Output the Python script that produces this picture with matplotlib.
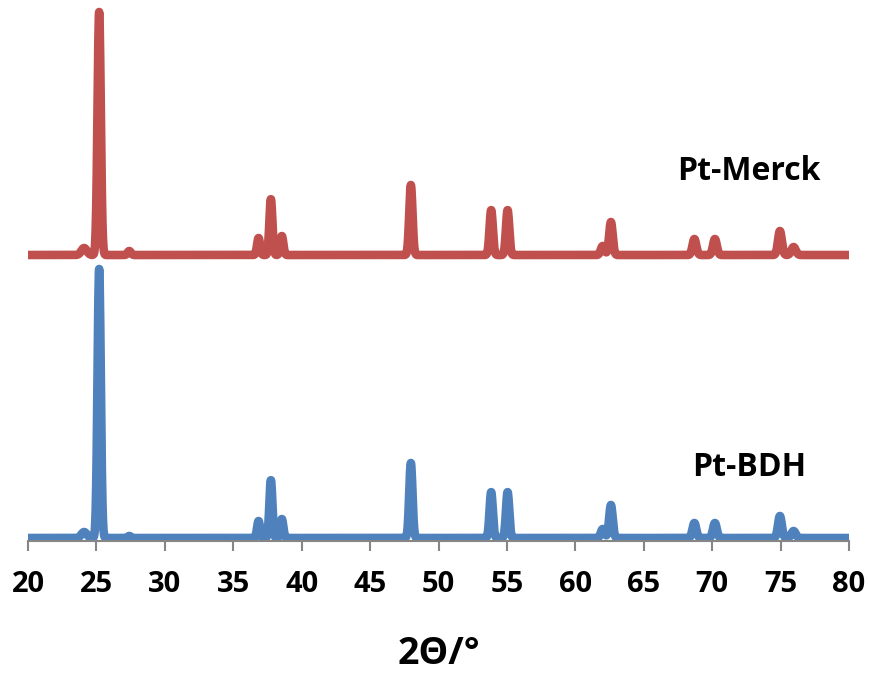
import numpy as np
import matplotlib
matplotlib.use("Agg")
import matplotlib.pyplot as plt

# Reflection positions (2θ, degrees) shared by both samples
peak_pos = [24.1, 25.2, 27.4, 36.85, 37.75, 38.55, 47.98, 53.85, 55.05,
            62.0, 62.6, 68.7, 70.2, 74.95, 75.95]
# Peak heights above each baseline (counts, arbitrary)
merck_heights = [7, 243, 4, 17, 56, 19, 70, 45, 45, 9, 33, 16, 16, 24, 8]
bdh_heights = [6, 269, 2, 17, 58, 19, 75, 46, 46, 9, 33, 15, 15, 22, 7]
# Peak widths (sigma, degrees)
peak_sigma = [0.2, 0.12, 0.12, 0.11, 0.11, 0.11, 0.12, 0.12, 0.12,
              0.14, 0.13, 0.14, 0.14, 0.14, 0.16]

merck_baseline = 286
bdh_baseline = 3

series_names = ["Pt-Merck", "Pt-BDH"]
x_ticks = [20, 25, 30, 35, 40, 45, 50, 55, 60, 65, 70, 75, 80]

two_theta = np.linspace(20, 80, 3001)


def pattern(heights, base):
    y = np.full_like(two_theta, float(base))
    for p, h, s in zip(peak_pos, heights, peak_sigma):
        y += h * np.exp(-0.5 * ((two_theta - p) / s) ** 2)
    return y


fig = plt.figure(figsize=(8.70, 6.73), dpi=100)
ax = fig.add_axes([28 / 870, 132 / 673, 821 / 870, 541 / 673])

ax.plot(two_theta, pattern(merck_heights, merck_baseline), color="#C0504D",
        lw=6.2, solid_capstyle="round", solid_joinstyle="round")
ax.plot(two_theta, pattern(bdh_heights, bdh_baseline), color="#4F81BD",
        lw=6.2, solid_capstyle="round", solid_joinstyle="round")

ax.set_xlim(20, 80)
ax.set_ylim(0, 541)

for s in ["left", "right", "top"]:
    ax.spines[s].set_visible(False)
ax.spines["bottom"].set_color("#868686")
ax.spines["bottom"].set_linewidth(1.5)
ax.set_yticks([])
ax.set_xticks(x_ticks)
ax.tick_params(axis="x", direction="out", length=7, width=1.5,
               color="#868686", pad=14)
ax.set_xticklabels([str(t) for t in x_ticks], fontfamily="Open Sans",
                   fontweight="bold", fontsize=21)

ax.set_xlabel("2Θ/°", fontfamily="Open Sans", fontweight="bold",
              fontsize=27, labelpad=26)

ax.text(749 / 870, (673 - 172) / 673, series_names[0], transform=fig.transFigure,
        ha="center", va="center", fontfamily="Open Sans", fontweight="bold",
        fontsize=23)
ax.text(749 / 870, (673 - 468) / 673, series_names[1], transform=fig.transFigure,
        ha="center", va="center", fontfamily="Open Sans", fontweight="bold",
        fontsize=23)

fig.savefig("out.png", dpi=100)
